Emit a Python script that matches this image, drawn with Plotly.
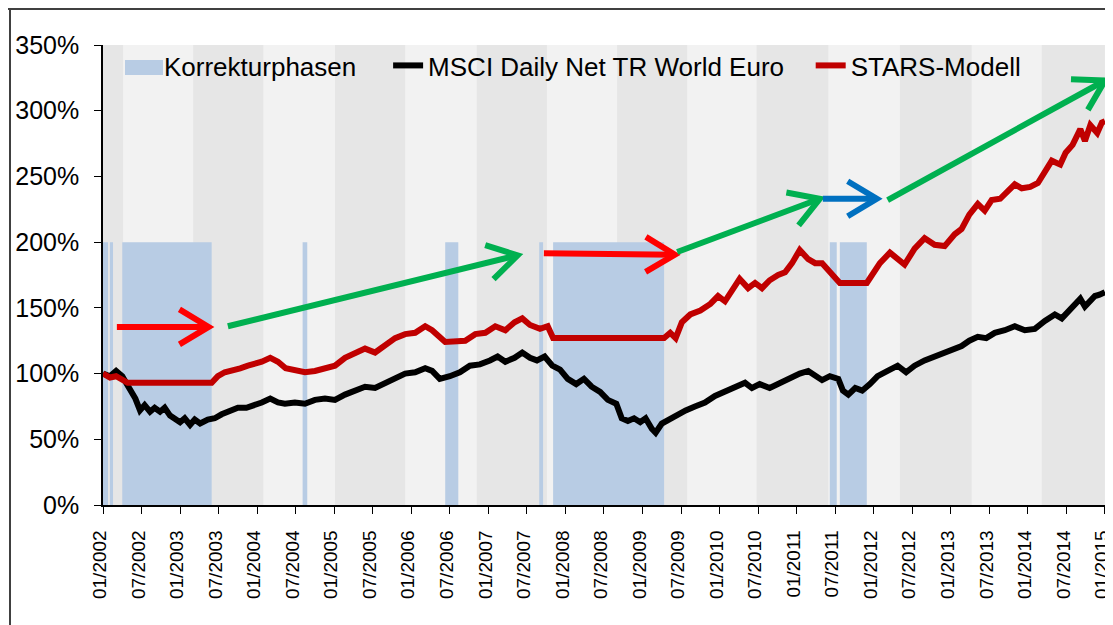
import math
import plotly.graph_objects as go

# ---------------- data (decimal years, percent) ----------------
msci_t = [2002.00, 2002.09, 2002.17, 2002.25, 2002.32, 2002.42, 2002.48, 2002.54, 2002.61, 2002.67,
          2002.74, 2002.80, 2002.87, 2002.93, 2003.00, 2003.06, 2003.13, 2003.19, 2003.26, 2003.36,
          2003.45, 2003.54, 2003.65, 2003.75, 2003.86, 2003.97, 2004.06, 2004.17, 2004.27, 2004.36,
          2004.49, 2004.62, 2004.75, 2004.88, 2005.01, 2005.14, 2005.27, 2005.40, 2005.53, 2005.66,
          2005.79, 2005.92, 2006.05, 2006.18, 2006.27, 2006.37, 2006.50, 2006.63, 2006.76, 2006.89,
          2007.02, 2007.12, 2007.22, 2007.34, 2007.44, 2007.54, 2007.63, 2007.73, 2007.83, 2007.93,
          2008.03, 2008.14, 2008.24, 2008.34, 2008.45, 2008.55, 2008.66, 2008.73, 2008.81, 2008.89,
          2008.97, 2009.04, 2009.12, 2009.17, 2009.25, 2009.36, 2009.46, 2009.56, 2009.68, 2009.81,
          2009.94, 2010.07, 2010.20, 2010.33, 2010.42, 2010.52, 2010.65, 2010.78, 2010.91, 2011.04,
          2011.15, 2011.24, 2011.33, 2011.43, 2011.54, 2011.60, 2011.67, 2011.76, 2011.85, 2011.95,
          2012.05, 2012.18, 2012.31, 2012.42, 2012.53, 2012.66, 2012.79, 2012.92, 2013.05, 2013.14,
          2013.24, 2013.35, 2013.46, 2013.57, 2013.70, 2013.83, 2013.96, 2014.09, 2014.22, 2014.35,
          2014.44, 2014.52, 2014.61, 2014.68, 2014.74, 2014.81, 2014.87, 2014.93, 2015.00]
msci_v = [100, 98, 102, 98, 91, 81, 72, 76, 71, 74,
          71, 74, 68, 66, 63, 66, 61, 65, 62, 65,
          66, 69, 72, 74, 74, 76, 78, 81, 78, 77,
          78, 77, 80, 81, 80, 84, 87, 90, 89, 93,
          96, 100, 101, 104, 102, 96, 98, 101, 106, 107,
          110, 113, 109, 112, 116, 112, 110, 113, 106, 103,
          96, 92, 96, 90, 86, 80, 77, 66, 64, 66,
          63, 66, 58, 55, 62, 66, 69, 72, 75, 78,
          83, 86, 90, 93, 89, 92, 89, 93, 96, 100,
          102, 98, 95, 98, 96, 87, 84, 89, 87, 92,
          98, 102, 106, 101, 106, 110, 113, 115, 118, 121,
          125, 128, 127, 131, 133, 136, 133, 134, 140, 145,
          142, 147, 151, 157, 151, 156, 159, 160, 162]

stars_t = [2002.00, 2002.09, 2002.17, 2002.25, 2002.32, 2003.41, 2003.49, 2003.58, 2003.67, 2003.78,
           2003.88, 2003.97, 2004.06, 2004.17, 2004.27, 2004.37, 2004.49, 2004.62, 2004.75, 2004.88,
           2005.01, 2005.14, 2005.27, 2005.40, 2005.53, 2005.66, 2005.79, 2005.92, 2006.05, 2006.18,
           2006.27, 2006.44, 2006.61, 2006.70, 2006.83, 2006.96, 2007.09, 2007.22, 2007.34, 2007.44,
           2007.54, 2007.67, 2007.77, 2007.84, 2009.28, 2009.36, 2009.43, 2009.51, 2009.62, 2009.75,
           2009.88, 2009.98, 2010.07, 2010.17, 2010.26, 2010.37, 2010.46, 2010.55, 2010.65, 2010.76,
           2010.85, 2010.94, 2011.04, 2011.15, 2011.24, 2011.33, 2011.43, 2011.56, 2011.91, 2012.08,
           2012.21, 2012.31, 2012.40, 2012.53, 2012.66, 2012.79, 2012.92, 2013.05, 2013.14, 2013.24,
           2013.35, 2013.44, 2013.53, 2013.64, 2013.74, 2013.83, 2013.92, 2014.03, 2014.13, 2014.22,
           2014.31, 2014.42, 2014.49, 2014.58, 2014.68, 2014.74, 2014.81, 2014.90, 2014.96, 2015.00]
stars_v = [100, 97, 98, 95, 93, 93, 98, 101, 102, 104,
           106, 107, 109, 112, 109, 104, 102, 101, 102, 104,
           106, 112, 116, 119, 116, 122, 127, 130, 131, 136,
           133, 124, 124, 125, 130, 131, 136, 133, 139, 142,
           137, 134, 136, 127, 127, 131, 127, 139, 145, 148,
           153, 159, 155, 163, 172, 165, 169, 165, 171, 175,
           177, 184, 194, 187, 184, 184, 178, 169, 169, 184,
           192, 187, 183, 195, 203, 198, 197, 206, 210, 221,
           229, 224, 232, 233, 239, 244, 241, 242, 245, 253,
           262, 259, 268, 274, 286, 277, 289, 283, 291, 292]

# correction phases (start, end) in decimal years, drawn up to 200 %
corr_phases = [(2002.00, 2002.065), (2002.09, 2002.13), (2002.25, 2003.41), (2004.59, 2004.65),
               (2006.44, 2006.61), (2007.66, 2007.71), (2007.84, 2009.28), (2011.43, 2011.52),
               (2011.56, 2011.91)]
corr_top = 200

# darker background bands (start, end)
grey_bands = [(2002.00, 2002.26), (2003.17, 2004.08), (2005.01, 2005.92), (2006.85, 2007.76),
              (2008.67, 2009.58), (2010.48, 2011.41), (2012.34, 2013.27), (2014.18, 2015.00)]

# annotation arrows: (x0, y0, x1, y1, colour)
arrows = [(2002.18, 135.5, 2003.37, 135.5, "#ff0000"),
          (2003.62, 136.0, 2007.38, 190.0, "#00b050"),
          (2007.72, 191.5, 2009.42, 190.5, "#ff0000"),
          (2009.45, 192.5, 2011.30, 233.0, "#00b050"),
          (2011.34, 233.0, 2012.04, 233.0, "#0070c0"),
          (2012.18, 232.0, 2015.00, 323.0, "#00b050")]

tick_vals = [2002 + 0.5 * i for i in range(27)]
tick_text = ["01/2002", "07/2002", "01/2003", "07/2003", "01/2004", "07/2004", "01/2005",
             "07/2005", "01/2006", "07/2006", "01/2007", "07/2007", "01/2008", "07/2008",
             "01/2009", "07/2009", "01/2010", "07/2010", "01/2011", "07/2011", "01/2012",
             "07/2012", "01/2013", "07/2013", "01/2014", "07/2014", "01/2015"]

series_names = ["Korrekturphasen", "MSCI Daily Net TR World Euro", "STARS-Modell"]

# ---------------- layout geometry (page body adds an 8px offset) ----------------
W, H = 1105, 617
ML, MR, MT, MB = 95, 8, 37, 120
XR = (2002, 2015.0005)
YR = (0, 350)
PW, PH = W - ML - MR, H - MT - MB
sx = PW / (XR[1] - XR[0])
sy = PH / (YR[1] - YR[0])
FONT = "Liberation Sans, Arial, sans-serif"
PAD1 = "\u00a0\u00a0\u00a0\u2009"
PAD2 = "\u00a0\u00a0\u00a0"
BLUE = "#b8cce4"


def px_x(px):
    return (px - ML) / PW


def px_y(py):
    return (H - MB - py) / PH


fig = go.Figure()

cx, cy = [], []
for a, b in corr_phases:
    cx += [a, a, b, b, a, None]
    cy += [0, corr_top, corr_top, 0, 0, None]
fig.add_trace(go.Scatter(x=cx, y=cy, mode="lines", fill="toself", fillcolor=BLUE,
                         line=dict(width=0, color=BLUE), name=series_names[0] + PAD1,
                         hoverinfo="skip"))
fig.add_trace(go.Scatter(x=msci_t, y=msci_v, mode="lines",
                         line=dict(color="#000000", width=6),
                         name=series_names[1] + PAD2))
fig.add_trace(go.Scatter(x=stars_t, y=stars_v, mode="lines",
                         line=dict(color="#c00000", width=6),
                         name=series_names[2]))

shapes = []
for a, b in grey_bands:
    shapes.append(dict(type="rect", xref="x", yref="paper", x0=a, x1=b, y0=0, y1=1,
                       fillcolor="#e6e6e6", line=dict(width=0), layer="below"))

L, HA = 34, math.radians(31)
for x0, y0, x1, y1, col in arrows:
    ang = math.atan2((y1 - y0) * sy, (x1 - x0) * sx)
    pts = []
    for s in (1, -1):
        a2 = ang + math.pi + s * HA
        pts.append((x1 + L * math.cos(a2) / sx, y1 + L * math.sin(a2) / sy))
    shapes.append(dict(type="path", xref="x", yref="y", layer="above",
                       path=f"M{x0},{y0} L{x1},{y1}", line=dict(color=col, width=6)))
    shapes.append(dict(type="path", xref="x", yref="y", layer="above",
                       path=f"M{pts[0][0]},{pts[0][1]} L{x1},{y1} L{pts[1][0]},{pts[1][1]}",
                       line=dict(color=col, width=6)))

# legend swatch for the correction phases (taller box, as in the original)
shapes.append(dict(type="rect", xref="paper", yref="paper", x0=px_x(117), x1=px_x(155),
                   y0=px_y(67), y1=px_y(52), fillcolor=BLUE, line=dict(width=0), layer="above"))

# outer frame (top and left edges)
shapes.append(dict(type="line", xref="paper", yref="paper", x0=px_x(0), x1=px_x(W),
                   y0=px_y(1), y1=px_y(1), line=dict(color="#404040", width=2)))
shapes.append(dict(type="line", xref="paper", yref="paper", x0=px_x(2), x1=px_x(2),
                   y0=px_y(H), y1=px_y(1), line=dict(color="#404040", width=2)))

fig.update_layout(
    width=W, height=H,
    margin=dict(l=ML, r=MR, t=MT, b=MB, pad=0, autoexpand=False),
    paper_bgcolor="white", plot_bgcolor="#f2f2f2",
    font=dict(family=FONT, color="black"),
    shapes=shapes,
    showlegend=True,
    legend=dict(orientation="h", x=px_x(116), y=1.0065, xanchor="left", yanchor="top",
                bgcolor="rgba(0,0,0,0)", font=dict(size=26, family=FONT), itemwidth=30),
    xaxis=dict(range=list(XR), tickmode="array", tickvals=tick_vals, ticktext=tick_text,
               tickangle=-90, ticks="outside", ticklen=7, tickcolor="black", tickwidth=1,
               showline=True, linecolor="black", linewidth=1.5, showgrid=False, zeroline=False,
               automargin=False, ticklabeloverflow="allow", ticklabelshift=-3,
               tickfont=dict(size=19, family=FONT), ticklabelstandoff=9),
    yaxis=dict(range=list(YR), dtick=50, ticksuffix="%", ticks="outside", ticklen=7,
               tickcolor="black", tickwidth=1, showline=True, linecolor="black", linewidth=1.5,
               showgrid=False, zeroline=False, automargin=False,
               tickfont=dict(size=25, family=FONT), ticklabelstandoff=10),
)

fig.write_html("out.html")
